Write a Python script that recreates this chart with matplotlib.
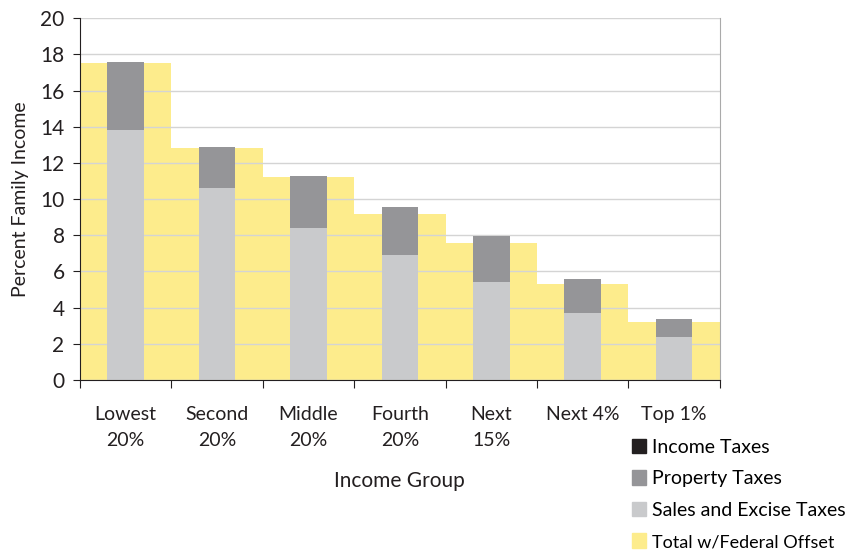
import matplotlib
matplotlib.use('Agg')

import matplotlib.pyplot as plt
from matplotlib.patches import Patch

# data
groups = ["Lowest\n20%", "Second\n20%", "Middle\n20%", "Fourth\n20%",
          "Next\n15%", "Next 4%", "Top 1%"]
sales_excise = [13.8, 10.6, 8.4, 6.9, 5.4, 3.7, 2.4]
property_tax = [3.8, 2.3, 2.9, 2.65, 2.55, 1.9, 0.95]
income_tax = [0, 0, 0, 0, 0, 0, 0]
total_offset = [17.5, 12.8, 11.2, 9.2, 7.55, 5.3, 3.2]

c_income = "#231f20"
c_property = "#959598"
c_sales = "#c9cacc"
c_total = "#fdec8c"


def main():
    plt.rcParams['font.family'] = ['Lato', 'DejaVu Sans']
    fig = plt.figure(figsize=(8.59, 5.5), dpi=100)
    ax = fig.add_axes([0.093, 0.309, 0.745, 0.658])

    x = list(range(len(groups)))

    # yellow background bars fill the whole category
    ax.bar(x, total_offset, width=1.0, color=c_total, zorder=1)

    # stacked tax bars in the middle
    ax.bar(x, sales_excise, width=0.4, color=c_sales, zorder=2)
    ax.bar(x, property_tax, width=0.4, bottom=sales_excise,
           color=c_property, zorder=2)
    tops = [s + p for s, p in zip(sales_excise, property_tax)]
    ax.bar(x, income_tax, width=0.4, bottom=tops, color=c_income, zorder=2)

    ax.set_xlim(-0.5, len(groups) - 0.5)
    ax.set_ylim(0, 20)
    ax.set_yticks(range(0, 21, 2))
    ax.tick_params(axis='y', labelsize=15, direction='out', length=5,
                   color='#231f20', labelcolor='#231f20', pad=6)

    # ticks at category edges, labels at centers
    ax.set_xticks([i - 0.5 for i in range(len(groups) + 1)])
    ax.set_xticklabels([])
    ax.set_xticks(x, minor=True)
    ax.set_xticklabels(groups, minor=True, fontsize=14, color='#231f20',
                       linespacing=1.6)
    ax.tick_params(axis='x', which='major', direction='out', length=6,
                   color='#231f20')
    ax.tick_params(axis='x', which='minor', length=0, pad=19)

    # gridlines above the yellow, below the gray bars
    ax.yaxis.grid(True, color='#d4d4d4', linewidth=1)
    ax.yaxis.set_zorder(1.5)

    ax.spines['top'].set_visible(False)
    ax.spines['right'].set_color('#aaaaaa')
    ax.spines['left'].set_color('#231f20')
    ax.spines['bottom'].set_color('#231f20')

    ax.set_ylabel("Percent Family Income", fontsize=14, color='#231f20',
                  labelpad=8)
    ax.set_xlabel("Income Group", fontsize=15, color='#231f20', labelpad=16)

    handles = [
        Patch(color=c_income, label="Income Taxes"),
        Patch(color=c_property, label="Property Taxes"),
        Patch(color=c_sales, label="Sales and Excise Taxes"),
        Patch(color=c_total, label="Total w/Federal Offset"),
    ]
    leg = fig.legend(handles=handles, loc='upper left',
                     bbox_to_anchor=(0.724, 0.22), frameon=False,
                     fontsize=14, handlelength=0.75, handleheight=0.75,
                     handletextpad=0.3, labelspacing=0.75, borderpad=0)
    leg.get_texts()[3].set_fontsize(13)

    fig.savefig("out.png", dpi=100)


if __name__ == "__main__":
    main()
